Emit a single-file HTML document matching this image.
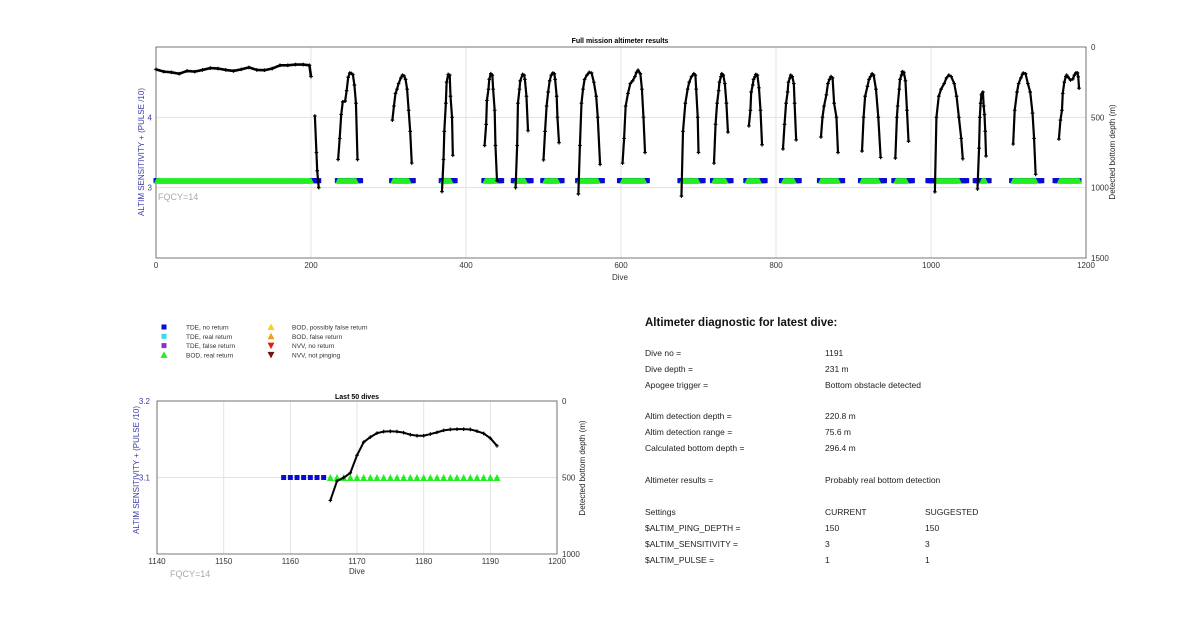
<!DOCTYPE html>
<html><head><meta charset="utf-8">
<style>
body{margin:0;background:#fff;width:1200px;height:622px;overflow:hidden;font-family:"Liberation Sans",Arial,sans-serif}
svg{position:absolute;left:0;top:0}
text{font-family:"Liberation Sans",Arial,sans-serif}
</style></head><body>
<svg id="s" width="1200" height="622" viewBox="0 0 1200 622"></svg>
<script>
// ---------- DATA ----------
const seg1Dives=[0,10,20,30,40,50,60,70,80,90,100,110,120,130,140,150,160,170,180,190,198,200];
const seg1Depth=[159,175,180,190,170,175,163,150,153,163,170,159,145,163,165,153,130,130,125,125,130,210];
const humpDives=[
 [205,207,208,210],
 [235,237,239,241,244,246,248,250,252,254,256,258,260],
 [305,307,309,311,313,316,318,320,322,324,326,328,330],
 [369,371,372,374,375,377,379,380,382,383],
 [424,426,427,429,430,432,434,435,437,438,440],
 [464,466,467,469,470,473,475,476,478,480],
 [500,502,504,506,508,510,512,514,515,517,518,520],
 [545,547,549,551,553,556,559,562,565,568,570,573],
 [602,604,606,609,612,615,618,620,622,625,627,629,631],
 [678,680,683,686,688,691,694,696,697,699,700],
 [720,722,724,726,727,729,730,732,734,736,738],
 [765,767,768,770,771,773,774,776,778,780,782],
 [809,811,813,815,816,818,819,821,823,824,826],
 [858,860,862,865,867,869,871,873,875,878,880],
 [911,913,915,918,920,922,924,926,929,932,935],
 [954,956,957,959,960,962,963,965,967,969,971],
 [1005,1007,1010,1013,1017,1020,1023,1026,1030,1033,1036,1039,1041],
 [1060,1062,1063,1064,1065,1066,1067,1068,1069,1070,1071],
 [1106,1108,1111,1113,1116,1118,1119,1122,1125,1128,1131,1133,1135],
 [1165,1167,1169,1170,1172,1174,1175,1177,1180,1183,1185,1187,1189,1190,1191]
];
const humpDepth=[
 [490,750,880,1000],
 [800,650,480,390,385,310,215,185,188,195,270,400,800],
 [520,420,330,300,260,220,200,205,230,300,450,600,825],
 [1028,800,600,400,250,195,200,350,500,770],
 [700,550,380,300,230,190,200,300,450,700,950],
 [1000,700,400,300,240,195,200,230,350,595],
 [803,600,420,320,240,200,185,190,230,350,500,680],
 [1045,700,400,300,230,200,180,185,250,350,500,835],
 [826,650,420,330,260,240,210,180,165,190,300,500,750],
 [1060,600,400,300,250,210,190,200,300,500,750],
 [826,550,400,310,250,210,190,200,260,400,605],
 [561,450,320,270,230,210,195,200,290,450,695],
 [725,550,400,320,250,220,200,210,260,400,660],
 [640,500,420,340,260,230,210,220,400,500,750],
 [740,500,350,280,230,210,190,200,300,500,785],
 [790,500,420,300,230,200,175,180,240,450,670],
 [1030,500,350,300,260,220,200,210,260,350,500,650,795],
 [1010,720,500,400,340,330,320,420,480,600,775],
 [690,450,320,260,220,195,185,190,260,320,470,650,905],
 [655,520,450,330,250,210,200,215,235,227,200,184,184,212,293]
];
const tdeRanges=[[0,2],[200,210],[234,264],[304,332],[368,386],[423,446],[461,484],[499,524],[544,576],[598,634],[676,706],[718,742],[761,786],[807,830],[856,886],[909,940],[952,976],[996,1046],[1057,1075],[1104,1143],[1160,1191]];
const bodRanges=[[1,200],[235,258],[306,326],[370,380],[425,438],[465,476],[502,518],[546,570],[602,630],[679,699],[720,735],[763,778],[810,823],[858,880],[911,932],[955,968],[1007,1036],[1066,1070],[1106,1135],[1166,1191]];
const markerLevel=3.1;
const topXTicks=[0,200,400,600,800,1000,1200];
const topLeftTicks=[3,4];
const topRightTicks=[0,500,1000,1500];
const l50Dives=[1166,1167,1168,1169,1170,1171,1172,1173,1174,1175,1176,1177,1178,1179,1180,1181,1182,1183,1184,1185,1186,1187,1188,1189,1190,1191];
const l50Depth=[650,523,501,470,355,269,236,210,200,198,200,207,220,227,227,216,205,192,186,184,184,186,197,212,243,293];
const l50TdeDives=[1159,1160,1161,1162,1163,1164,1165];
const l50BodDives=[1166,1167,1168,1169,1170,1171,1172,1173,1174,1175,1176,1177,1178,1179,1180,1181,1182,1183,1184,1185,1186,1187,1188,1189,1190,1191];
const l50XTicks=[1140,1150,1160,1170,1180,1190,1200];
const l50LeftTicks=[3.1,3.2];
const l50RightTicks=[0,500,1000];

// ---------- DRAW ----------
const NS='http://www.w3.org/2000/svg',S=document.getElementById('s');
function el(t,a,p){const e=document.createElementNS(NS,t);for(const k in a)e.setAttribute(k,a[k]);(p||S).appendChild(e);return e;}
function tx(x,y,s,a,p){const e=el('text',Object.assign({x:x,y:y,'font-size':8,fill:'#333'},a||{}),p);e.textContent=s;return e;}

function axes(o){
 const g=el('g',{});
 
 
 const X=v=>o.x0+(v-o.xmin)/(o.xmax-o.xmin)*(o.x1-o.x0);
 const YL=v=>o.y1-(v-o.lmin)/(o.lmax-o.lmin)*(o.y1-o.y0);
 const YR=v=>o.y0+(v-o.rmin)/(o.rmax-o.rmin)*(o.y1-o.y0);
 o.xt.forEach(v=>{const gl=el('line',{x1:X(v),x2:X(v),y1:o.y0,y2:o.y1,stroke:'#e3e3e3','stroke-width':1},g);
  const t=tx(X(v),o.y1+10,String(v),{'text-anchor':'middle'},g);});
 o.lt.forEach(v=>{const gl=el('line',{x1:o.x0,x2:o.x1,y1:YL(v),y2:YL(v),stroke:'#e3e3e3','stroke-width':1},g);
  const t=tx(o.x0-o.lpad,YL(v)+3,String(v),{'text-anchor':'end',fill:'#3a3aa8'},g);});
 o.rt.forEach(v=>{const t=tx(o.x1+5,YR(v)+3,String(v),{},g);});
 const b=el('rect',{x:o.x0,y:o.y0,width:o.x1-o.x0,height:o.y1-o.y0,fill:'none',stroke:'#555','stroke-width':0.8},g);
 
 return {X,YL,YR,g};
}
function line(ax,dv,dp,name,mk,w){
 const pts=dv.map((d,i)=>ax.X(d)+','+ax.YR(dp[i])).join(' ');
 const p=el('polyline',{points:pts,fill:'none',stroke:'#000','stroke-width':w,'stroke-linejoin':'round'},ax.g);
 
 dv.forEach((d,i)=>{const c=el('path',{d:`M${ax.X(d)-mk},${ax.YR(dp[i])}h${2*mk}M${ax.X(d)},${ax.YR(dp[i])-mk}v${2*mk}`,stroke:'#000','stroke-width':1.2},ax.g);
  });
}
function sq(ax,d,v,s){const r=el('rect',{x:ax.X(d)-s/2,y:ax.YL(v)-s/2,width:s,height:s,fill:'#0a0ad0'},ax.g);}
function tri(ax,d,v,s){const x=ax.X(d),y=ax.YL(v);const p=el('polygon',{points:`${x-s/2},${y+s/2} ${x+s/2},${y+s/2} ${x},${y-s/2}`,fill:'#22ee22'},ax.g);}

const A=axes({name:'full-mission-chart',x0:156,x1:1086,y0:47,y1:258,xmin:0,xmax:1200,lmin:2,lmax:5,rmin:0,rmax:1500,xt:topXTicks,lt:topLeftTicks,rt:topRightTicks,lpad:4});
tdeRanges.forEach(r=>{for(let d=r[0];d<=r[1];d++)sq(A,d,markerLevel,5);});
bodRanges.forEach(r=>{for(let d=r[0];d<=r[1];d++)tri(A,d,markerLevel,6);});
line(A,seg1Dives,seg1Depth,'bottom-depth-line',1.8,2.6);
humpDives.forEach((h,i)=>line(A,h,humpDepth[i],'bottom-depth-line',1.8,2.2));
let t;
t=tx(620,43,'Full mission altimeter results',{'text-anchor':'middle','font-weight':'bold','font-size':7,fill:'#000'});
t=tx(620,280,'Dive',{'text-anchor':'middle'});
t=tx(0,0,'ALTIM SENSITIVITY + (PULSE /10)',{'text-anchor':'middle',fill:'#3a3aa8',transform:'translate(144,152) rotate(-90)'});
t=tx(0,0,'Detected bottom depth (m)',{'text-anchor':'middle',fill:'#222',transform:'translate(1115,152) rotate(-90)'});
t=tx(158,200,'FQCY=14',{fill:'#aaa','font-size':9});

const B=axes({name:'last-50-dives-chart',x0:157,x1:557,y0:401,y1:554,xmin:1140,xmax:1200,lmin:3.0,lmax:3.2,rmin:0,rmax:1000,xt:l50XTicks,lt:l50LeftTicks,rt:l50RightTicks,lpad:7});
l50TdeDives.forEach(d=>sq(B,d,markerLevel,5));
l50BodDives.forEach(d=>tri(B,d,markerLevel,7));
line(B,l50Dives,l50Depth,'last50-depth-line',1.8,2);
t=tx(357,399,'Last 50 dives',{'text-anchor':'middle','font-weight':'bold','font-size':7,fill:'#000'});
t=tx(357,574,'Dive',{'text-anchor':'middle'});
t=tx(0,0,'ALTIM SENSITIVITY + (PULSE /10)',{'text-anchor':'middle',fill:'#3a3aa8',transform:'translate(139,470) rotate(-90)'});
t=tx(0,0,'Detected bottom depth (m)',{'text-anchor':'middle',fill:'#222',transform:'translate(585,468) rotate(-90)'});
t=tx(170,577,'FQCY=14',{fill:'#aaa','font-size':9});

const legLabels=['TDE, no return','TDE, real return','TDE, false return','BOD, real return','BOD, possibly false return','BOD, false return','NVV, no return','NVV, not pinging'];
const legColors=['#0a0ad0','#33ddee','#8833cc','#22ee22','#f2d21a','#f0a020','#e02010','#771010'];
const legShapes=['s','s','s','u','u','u','d','d'];
legLabels.forEach((l,i)=>{
 const cx=i<4?164:271,cy=327+(i%4)*9.3,g=el('g',{});
 
 if(legShapes[i]=='s')el('rect',{x:cx-2.5,y:cy-2.5,width:5,height:5,fill:legColors[i]},g);
 else if(legShapes[i]=='u')el('polygon',{points:`${cx-3.5},${cy+3} ${cx+3.5},${cy+3} ${cx},${cy-3.5}`,fill:legColors[i]},g);
 else el('polygon',{points:`${cx-3.5},${cy-3} ${cx+3.5},${cy-3} ${cx},${cy+3.5}`,fill:legColors[i]},g);
 tx(i<4?186:292,cy+2.5,l,{'font-size':6.5,fill:'#333'},g);
});

t=tx(645,326,'Altimeter diagnostic for latest dive:',{'font-size':11.5,'font-weight':'bold',fill:'#111'});
const rows=[[356,'Dive no =','1191',''],[372,'Dive depth =','231 m',''],[388,'Apogee trigger =','Bottom obstacle detected',''],[419,'Altim detection depth =','220.8 m',''],[435,'Altim detection range =','75.6 m',''],[451,'Calculated bottom depth =','296.4 m',''],[483,'Altimeter results =','Probably real bottom detection',''],[515,'Settings','CURRENT','SUGGESTED'],[531,'$ALTIM_PING_DEPTH =','150','150'],[547,'$ALTIM_SENSITIVITY =','3','3'],[563,'$ALTIM_PULSE =','1','1']];
rows.forEach(r=>{const g=el('g',{});
 tx(645,r[0],r[1],{'font-size':8.5,fill:'#222'},g);tx(825,r[0],r[2],{'font-size':8.5,fill:'#222'},g);if(r[3])tx(925,r[0],r[3],{'font-size':8.5,fill:'#222'},g);});
</script>
</body></html>
